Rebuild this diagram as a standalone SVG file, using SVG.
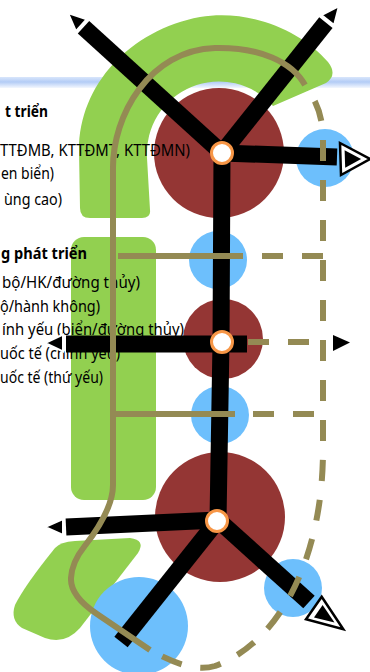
<svg xmlns="http://www.w3.org/2000/svg" width="370" height="672" viewBox="0 0 370 672">
  <defs>
    <linearGradient id="bandFill" x1="0" y1="0" x2="0" y2="1">
      <stop offset="0" stop-color="#d9e6fb"/>
      <stop offset="0.45" stop-color="#b3ccf6"/>
      <stop offset="1" stop-color="#f3f7fe"/>
    </linearGradient>
  </defs>
  <style>
    .green { fill: #92d050; }
    .core { fill: #943634; }
    .port { fill: #6dbffc; }
    .bar { fill: none; stroke: #000; stroke-width: 17; stroke-linecap: butt; stroke-linejoin: round; }
    .head { fill: #000; stroke: #fff; stroke-width: 2; stroke-linejoin: miter; }
    .hollow { fill: #fff; stroke: #000; stroke-width: 2.5; stroke-linejoin: miter; }
    .tip { fill: #000; }
    .road { fill: none; stroke: #948a54; stroke-width: 6; }
    .dash { stroke-dasharray: 21 19; }
    .hub { fill: #fff; stroke: #f79646; stroke-width: 3; }
    .txt { font-family: "Noto Sans", "Open Sans", "DejaVu Sans", sans-serif; font-size: 16px; fill: #000; }
    .bold { font-weight: bold; }
  </style>

  <rect x="0" y="0" width="370" height="672" fill="#fff"/>
  <!-- title band -->
  <rect x="0" y="77" width="370" height="11" fill="url(#bandFill)"/>

  <!-- green belts -->
  <g id="belt-north">
    <path class="green" d="M80,208 L79,150 C79,85 130,30 200,17 C250,9 300,30 328,62 Q338,75 326,83 L273,106 A72,72 0 0 0 147,158 L150,210 Q151,218 142,218 L90,218 Q80,218 80,208 Z"/>
  </g>
  <g id="belt-central">
    <rect class="green" x="71" y="237" width="85" height="263" rx="13"/>
  </g>
  <g id="belt-south">
    <path class="green" d="M55,548 Q60,542 75,541 L130,538 Q146,540 138,553 L80,628 Q65,645 45,638 L22,628 Q10,620 15,605 Q25,585 55,548 Z"/>
  </g>

  <!-- growth poles -->
  <g id="pole-north"><circle class="core" cx="219" cy="153" r="65"/></g>
  <g id="pole-central"><circle class="core" cx="223" cy="339" r="40"/></g>
  <g id="pole-south"><circle class="core" cx="220" cy="517" r="65"/></g>

  <!-- ports -->
  <g id="port-1"><circle class="port" cx="218" cy="260" r="29"/></g>
  <g id="port-2"><circle class="port" cx="220" cy="415" r="29"/></g>
  <g id="port-3"><circle class="port" cx="325" cy="158" r="29"/></g>
  <g id="port-4"><circle class="port" cx="293" cy="588" r="29"/></g>
  <g id="port-5"><circle class="port" cx="139" cy="626" r="49"/></g>

  <!-- legend text -->
  <g id="legend">
    <text class="txt bold" x="5" y="117" textLength="43" lengthAdjust="spacingAndGlyphs">t triển</text>
    <text class="txt" x="0" y="156" textLength="190" lengthAdjust="spacingAndGlyphs">TTĐMB, KTTĐMT, KTTĐMN)</text>
    <text class="txt" x="1" y="179" textLength="53" lengthAdjust="spacingAndGlyphs">en biển)</text>
    <text class="txt" x="4" y="205" textLength="58" lengthAdjust="spacingAndGlyphs">ùng cao)</text>
    <text class="txt bold" x="1" y="259" textLength="86" lengthAdjust="spacingAndGlyphs">g phát triển</text>
    <text class="txt" x="2" y="288" textLength="138" lengthAdjust="spacingAndGlyphs">bộ/HK/đường thủy)</text>
    <text class="txt" x="0" y="312" textLength="100" lengthAdjust="spacingAndGlyphs">ộ/hành không)</text>
    <text class="txt" x="2" y="335" textLength="182" lengthAdjust="spacingAndGlyphs">ính yếu (biển/đường thủy)</text>
    <text class="txt" x="0" y="359" textLength="120" lengthAdjust="spacingAndGlyphs">uốc tế (chính yếu)</text>
    <text class="txt" x="0" y="383" textLength="103" lengthAdjust="spacingAndGlyphs">uốc tế (thứ yếu)</text>
  </g>

  <!-- corridors -->
  <g id="corridors">
    <polyline class="bar" points="222,153 221,342 218,520"/>
    <line class="bar" x1="222" y1="153" x2="83.5" y2="27.2"/>
    <polygon class="head" points="68,13 86.7,19.3 75.9,31.1"/>
    <line class="bar" x1="222" y1="153" x2="325.9" y2="22.6"/>
    <polygon class="head" points="339,6 334.1,25.1 321.5,15.1"/>
    <line class="bar" x1="222" y1="153" x2="337" y2="157"/>
    <polygon class="hollow" points="340,143 370,159 341,175"/>
    <polygon class="tip" points="344.6,150.2 361.1,159 345.2,167.8"/>
    <line class="bar" x1="247" y1="344" x2="66" y2="344"/>
    <polygon class="head" points="45,343 63,334.5 63,351.5"/>
    <line class="bar" x1="218" y1="520" x2="66" y2="527"/>
    <polygon class="head" points="45,527 63,519 63,535"/>
    <line class="bar" x1="218" y1="520" x2="121" y2="642"/>
    <line class="bar" x1="218" y1="520" x2="309" y2="602"/>
    <polygon class="hollow" points="321.7,596.7 306,619.3 343.3,629.3"/>
    <polygon class="tip" points="322.6,605 314,617.4 334.5,622.5"/>

    <!-- roads -->
    <path class="road" d="M150,650 L97,614 Q70,596 71,578 Q72,562 84,547 Q113,510 113,485 L113,170 C112,115 150,50 215,48 C260,47 292,62 305,85"/>
    <path class="road dash" stroke-dashoffset="27" d="M308,90 Q323,110 323,140 L323,450 C323,550 285,640 215,666 C195,672 172,662 150,650"/>
    <path class="road" d="M118,256 H243"/>
    <path class="road dash" d="M262,256 H323"/>
    <path class="road dash" d="M248,342 H313"/>
    <polygon class="tip" points="333,335 350,342.5 333,351"/>
    <path class="road" d="M113,414 H235"/>
    <path class="road dash" d="M253,414 H314"/>
  </g>

  <!-- junctions -->
  <g id="hub-north"><circle class="hub" cx="222" cy="153" r="10.5"/></g>
  <g id="hub-central"><circle class="hub" cx="222" cy="342" r="10.5"/></g>
  <g id="hub-south"><circle class="hub" cx="217" cy="521" r="10.5"/></g>
</svg>
